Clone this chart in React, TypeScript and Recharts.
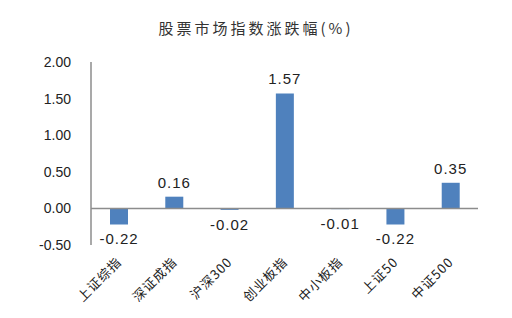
import { Bar, BarChart, LabelList, ReferenceLine, XAxis, YAxis } from "recharts";

const categories = ["上证综指", "深证成指", "沪深300", "创业板指", "中小板指", "上证50", "中证500"];
const changes = [-0.22, 0.16, -0.02, 1.57, -0.01, -0.22, 0.35];
const yTicks = [-0.5, 0, 0.5, 1, 1.5, 2];

const data = categories.map((name, i) => ({ name, value: changes[i] }));

const cjk = '"Noto Sans CJK SC", "Noto Sans", sans-serif';
const num = '"Liberation Sans", Arial, sans-serif';

function XTick(props: any) {
  const { x, y, payload } = props;
  return (
    <text
      x={x}
      y={y}
      transform={`rotate(-45, ${x}, ${y})`}
      textAnchor="end"
      dominantBaseline="central"
      fontFamily={cjk}
      fontSize={13}
      letterSpacing={1}
      fill="#222"
    >
      {payload.value}
    </text>
  );
}

export default function App() {
  return (
    <div style={{ position: "absolute", left: 0, top: 0, width: 512, height: 318, background: "#fff" }}>
      <div
        style={{
          position: "absolute",
          top: 17,
          left: 0,
          width: 512,
          textAlign: "center",
          fontFamily: cjk,
          fontSize: 15,
          letterSpacing: 3,
          color: "#333",
        }}
      >
        股票市场指数涨跌幅(%)
      </div>
      <BarChart width={512} height={318} data={data} margin={{ top: 62, right: 34, left: 0, bottom: 0 }}>
        <XAxis
          dataKey="name"
          axisLine={false}
          tickLine={false}
          tickSize={0}
          tickMargin={14}
          height={73}
          interval={0}
          tick={<XTick />}
        />
        <YAxis
          domain={[-0.5, 2]}
          ticks={yTicks}
          tickFormatter={(v: number) => v.toFixed(2)}
          width={91}
          tickLine={false}
          tickSize={0}
          tickMargin={20}
          axisLine={{ stroke: "#8c8c8c", strokeWidth: 1.5 }}
          tick={{ fill: "#222", fontSize: 14, fontFamily: num }}
        />
        <ReferenceLine y={0} stroke="#8c8c8c" strokeWidth={1.5} />
        <Bar dataKey="value" fill="#4F81BD" barSize={18} isAnimationActive={false}>
          <LabelList
            dataKey="value"
            position="top"
            offset={9}
            formatter={(v: any) => Number(v).toFixed(2)}
            style={{ fill: "#222", fontSize: 15, fontFamily: num, letterSpacing: 1 }}
          />
        </Bar>
      </BarChart>
    </div>
  );
}
